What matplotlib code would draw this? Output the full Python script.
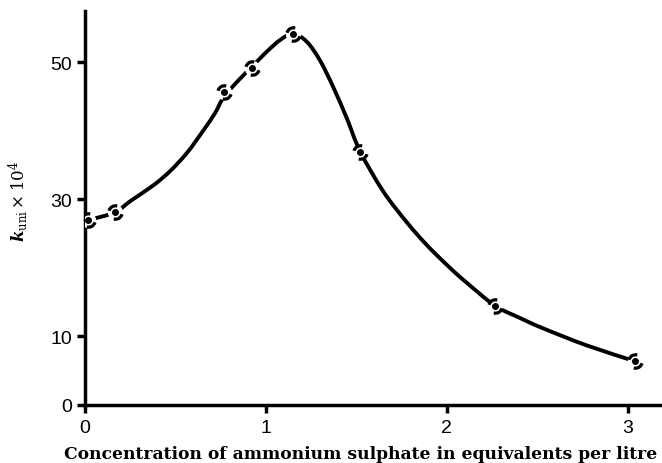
# k_uni vs ammonium sulphate concentration
import numpy as np
import matplotlib
matplotlib.use("Agg")
import matplotlib.pyplot as plt
from matplotlib.path import Path
from matplotlib.patches import PathPatch

# measured points
conc = [0.02, 0.165, 0.767, 0.925, 1.151, 1.522, 2.267, 3.039]
k_uni = [27.0, 28.1, 45.7, 49.2, 54.2, 36.9, 14.5, 6.4]

# hand-drawn curve
curve_x = [0.02, 0.165, 0.254, 0.381, 0.474, 0.568, 0.656, 0.72, 0.767,
           0.85, 0.925, 1.007, 1.081, 1.151, 1.228, 1.302, 1.375, 1.449, 1.522,
           1.649, 1.782, 1.892, 2.019, 2.113, 2.267, 2.405, 2.532, 2.774, 3.039]
curve_y = [27.0, 28.1, 29.8, 32.1, 34.2, 36.9, 40.1, 42.6, 44.9,
           47.4, 49.4, 51.6, 53.3, 54.2, 53.0, 50.2, 46.3, 41.8, 37.0,
           31.2, 26.6, 23.3, 20.0, 17.8, 14.5, 12.7, 11.2, 8.7, 6.4]

xticks = [0, 1, 2, 3]
yticks = [0, 10, 30, 50]


def smooth_path(xs, ys):
    # catmull-rom through the traced points, drawn as cubic bezier segments
    p = np.column_stack([xs, ys])
    ext = np.vstack([p[0], p, p[-1]])
    verts = [p[0]]
    codes = [Path.MOVETO]
    for i in range(1, len(ext) - 2):
        p0, p1, p2, p3 = ext[i - 1], ext[i], ext[i + 1], ext[i + 2]
        verts += [p1 + (p2 - p0) / 6, p2 - (p3 - p1) / 6, p2]
        codes += [Path.CURVE4] * 3
    return Path(verts, codes)


# broken-circle marker "( . )"
arc1 = Path.arc(75, 165)
arc2 = Path.arc(255, 345)
broken_circle = Path.make_compound_path(arc1, arc2)

fig = plt.figure(figsize=(6.62, 4.64), dpi=100)
ax = fig.add_axes([0.128, 0.125, 0.872, 0.849])

ax.add_patch(PathPatch(smooth_path(curve_x, curve_y), fill=False, ec="black",
                       lw=2.8, capstyle="round", zorder=2))
ax.plot(conc, k_uni, "o", ms=10, mfc="white", mec="white", zorder=3)
ax.plot(conc, k_uni, ls="none", marker=broken_circle, ms=10, mfc="none",
        mec="black", mew=2.3, zorder=4)
ax.plot(conc, k_uni, "o", ms=4, color="black", zorder=5)

ax.set_xlim(0, 3.19)
ax.set_ylim(0, 57.5)
ax.set_xticks(xticks)
ax.set_yticks(yticks)
ax.set_xticklabels([str(t) for t in xticks], family="Liberation Sans", fontsize=14)
ax.set_yticklabels([str(t) for t in yticks], family="Liberation Sans", fontsize=14)
ax.tick_params(direction="out", length=6, width=2.5)
ax.tick_params(axis="x", pad=4)
ax.tick_params(axis="y", pad=3)

for side in ["top", "right"]:
    ax.spines[side].set_visible(False)
for side in ["left", "bottom"]:
    ax.spines[side].set_linewidth(2.5)

fig.text(0.544, 0.01, "Concentration of ammonium sulphate in equivalents per litre",
         ha="center", va="baseline", family="DejaVu Serif", weight="bold", fontsize=12.3)
plt.rcParams["mathtext.fontset"] = "dejavuserif"
fig.text(0.027, 0.565, r"$\boldsymbol{k}_{\rm uni}\times 10^4$", rotation=90,
         ha="center", va="center", fontsize=12)

fig.savefig("out.png", dpi=100)
